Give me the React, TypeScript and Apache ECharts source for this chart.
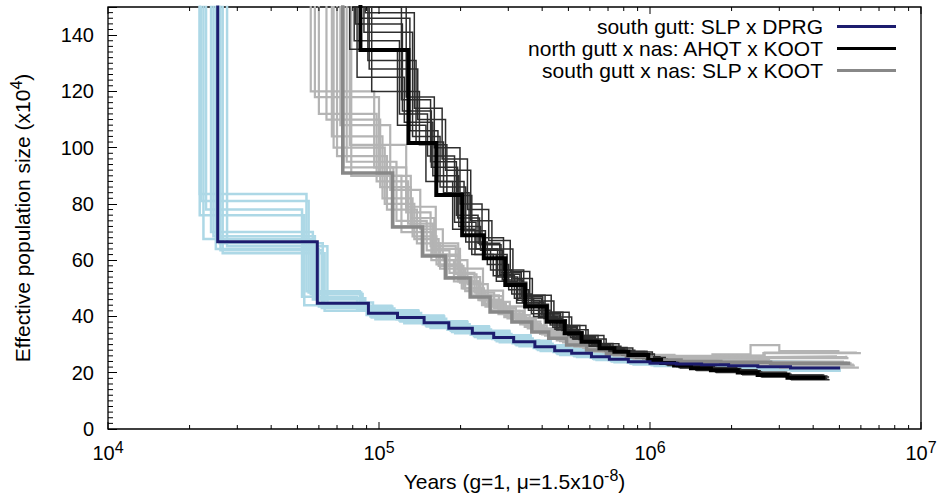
import React, { useEffect, useRef } from "react";
import * as echarts from "echarts";

// PSMC histories, [time (kyr), Ne (x10^4)]; each Ne holds from its time until the next one.
const slpDprg: number[][] = [
  [10, 400], [25.4, 66.6], [59.2, 44.7], [91.4, 41.1], [117, 39.6], [146.7, 37.8], [181, 35.8],
  [221, 34.0], [265, 32.5], [314, 31.0], [376, 29.2], [445, 27.8], [514, 26.9], [608, 25.7],
  [708, 24.8], [832, 23.9], [1000, 23.4], [1250, 23.1], [1550, 22.8], [1950, 22.5], [2500, 22.1],
  [3300, 21.7], [5030, 21.7],
];
const ahqtKoot: number[][] = [
  [60, 400], [85.4, 134.7], [128.4, 101.7], [162.7, 83.2], [202.7, 68.9], [243.6, 60.7],
  [292.4, 51.2], [346.1, 43.5], [415.7, 38.1], [484.2, 34.0], [558.8, 31.0], [651, 28.7],
  [739, 27.5], [832, 26.3], [985, 24.5], [1099, 23.5], [1227, 22.6], [1416, 21.6], [1678, 20.9],
  [2108, 20.1], [2496, 19.2], [3216, 18.2], [4435, 18.2],
];
const slpKoot: number[][] = [
  [50, 400], [73.5, 91], [112.2, 71.8], [144.6, 61.5], [175.7, 53.7], [216.9, 46.9], [256.9, 41.6],
  [309.3, 38.0], [366.3, 34.5], [422.9, 32.3], [492.3, 29.9], [583.4, 28.1], [690.6, 26.7],
  [818.3, 25.6], [1010, 24.5], [1302, 24.0], [1825, 23.7], [2786, 23.4], [5480, 23.4],
];

// Bootstrap replicates
const slpDprgBoot: number[][][] = [
  [[10, 400], [21.8, 83.5], [54, 49], [85, 43], [110, 41.5], [138, 39.5], [172, 37.5], [210, 35.6], [252, 34], [300, 32.3], [360, 30.5], [428, 29], [500, 27.8], [590, 26.7], [690, 25.6], [810, 24.8], [980, 24.2], [1230, 23.8], [1530, 23.5], [1930, 23.2], [2480, 22.8], [3280, 22.4], [5000, 22.4]],
  [[10, 400], [23, 78], [52, 47], [83, 42.5], [107, 41], [134, 39], [166, 37], [203, 35.3], [244, 33.8], [290, 32.2], [348, 30.4], [414, 28.8], [482, 27.7], [570, 26.6], [665, 25.6], [785, 24.7], [950, 24.3], [1200, 24.1], [1500, 23.9], [1900, 23.7], [2450, 23.5], [3250, 23.2], [4950, 23.2]],
  [[10, 400], [24, 70], [57, 46], [88, 42], [113, 40.4], [141, 38.6], [175, 36.6], [214, 34.8], [257, 33.2], [305, 31.7], [366, 29.9], [434, 28.4], [505, 27.4], [598, 26.3], [698, 25.3], [820, 24.5], [990, 24], [1240, 23.5], [1540, 23.2], [1940, 22.8], [2490, 22.4], [3290, 22.0], [5020, 22.0]],
  [[10, 400], [25, 64], [60, 43.5], [93, 40], [119, 38.6], [149, 36.8], [184, 34.9], [224, 33.1], [269, 31.6], [319, 30.1], [382, 28.4], [452, 27.0], [522, 26.2], [617, 25.0], [718, 24.2], [845, 23.4], [1010, 22.9], [1260, 22.6], [1560, 22.3], [1960, 22.0], [2510, 21.6], [3310, 21.2], [5040, 21.2]],
  [[10, 400], [26.5, 62.5], [63, 42], [97, 39], [124, 37.6], [155, 35.9], [191, 34], [232, 32.3], [279, 30.8], [330, 29.4], [395, 27.7], [466, 26.3], [538, 25.6], [635, 24.5], [740, 23.7], [870, 22.9], [1040, 22.4], [1290, 22.0], [1590, 21.7], [1990, 21.4], [2540, 21.0], [3340, 20.7], [5060, 20.7]],
  [[10, 400], [27.5, 65], [64.5, 45], [95, 41.8], [121, 40.2], [152, 38.2], [187, 36.4], [228, 34.6], [274, 33], [325, 31.5], [390, 29.6], [460, 28.1], [530, 27.1], [625, 26], [728, 25.2], [855, 24.3], [1020, 23.8], [1270, 23.4], [1570, 23.1], [1970, 22.8], [2520, 22.4], [3320, 22.0], [5050, 22.0]],
  [[10, 400], [22.5, 67.5], [56, 48], [87, 43.5], [112, 42], [140, 40], [174, 38], [212, 36.3], [255, 34.7], [303, 33], [363, 31.2], [430, 29.6], [500, 28.6], [592, 27.4], [690, 26.4], [812, 25.5], [985, 24.8], [1235, 24.5], [1535, 24.2], [1935, 24], [2485, 23.8], [3285, 23.6], [5010, 23.6]],
  [[10, 400], [21.8, 76], [53, 44], [90, 40.5], [116, 39], [145, 37.2], [179, 35.3], [218, 33.5], [262, 32], [311, 30.5], [372, 28.8], [440, 27.4], [510, 26.5], [603, 25.4], [703, 24.5], [826, 23.6], [995, 23.1], [1245, 22.8], [1545, 22.5], [1945, 22.1], [2495, 21.8], [3295, 21.4], [5025, 21.4]],
  [[10, 400], [24.5, 68.5], [58, 46.5], [89, 42.8], [114, 41.2], [143, 39.2], [177, 37.2], [216, 35.4], [259, 33.8], [308, 32.2], [369, 30.3], [437, 28.9], [508, 27.9], [600, 26.8], [700, 25.8], [823, 24.9], [993, 24.4], [1245, 24], [1545, 23.7], [1945, 23.4], [2495, 23], [3295, 22.6], [5030, 22.6]],
  [[10, 400], [26, 63.5], [61.5, 43], [94, 39.6], [120, 38.2], [150, 36.4], [186, 34.5], [226, 32.7], [272, 31.2], [322, 29.8], [386, 28.1], [456, 26.7], [526, 25.9], [622, 24.8], [724, 24], [850, 23.2], [1015, 22.7], [1265, 22.3], [1565, 22], [1965, 21.7], [2515, 21.3], [3315, 20.9], [5045, 20.9]],
  [[10, 400], [22, 81], [55, 48.5], [86, 43.8], [111, 42.2], [139, 40.3], [173, 38.3], [211, 36.5], [254, 34.9], [302, 33.3], [362, 31.4], [429, 29.8], [499, 28.8], [591, 27.6], [692, 26.6], [811, 25.7], [983, 25], [1233, 24.6], [1533, 24.3], [1933, 24.1], [2483, 23.9], [3283, 23.7], [5000, 23.7]],
  [[10, 400], [25.8, 66], [62, 44.2], [92, 40.7], [118, 39.2], [147, 37.4], [182, 35.5], [222, 33.7], [267, 32.2], [316, 30.7], [378, 28.9], [448, 27.5], [517, 26.6], [612, 25.5], [712, 24.6], [838, 23.7], [1005, 23.2], [1255, 22.9], [1555, 22.6], [1955, 22.3], [2505, 21.9], [3305, 21.5], [5035, 21.5]],
];
const ahqtKootBoot: number[][][] = [
  [[60, 400], [80, 150], [121, 117], [155, 95], [193, 76], [232, 66], [279, 55], [331, 46.5], [398, 40.5], [464, 36], [535, 32.6], [624, 30], [709, 28.6], [800, 27.3], [950, 25.4], [1060, 24.3], [1185, 23.4], [1370, 22.4], [1625, 21.6], [2045, 20.8], [2420, 19.9], [3120, 18.9], [4300, 18.9]],
  [[60, 400], [83, 125], [124, 109], [158, 90], [197, 72], [237, 63.5], [285, 53], [338, 45], [406, 39.3], [473, 35], [546, 31.8], [637, 29.3], [723, 28], [815, 26.8], [965, 25], [1078, 24], [1205, 23.1], [1392, 22.1], [1650, 21.3], [2075, 20.5], [2460, 19.6], [3170, 18.6], [4370, 18.6]],
  [[60, 400], [88, 141], [133, 104], [168, 86], [209, 66.5], [251, 58.5], [301, 49.5], [356, 42.2], [428, 37], [498, 33.2], [574, 30.3], [669, 28.1], [760, 27], [855, 25.9], [1010, 24.1], [1125, 23.1], [1255, 22.2], [1445, 21.3], [1710, 20.6], [2140, 19.8], [2530, 19.0], [3260, 18.0], [4500, 18.0]],
  [[60, 400], [91, 131], [137, 102], [173, 84], [215, 64], [258, 56.5], [309, 48], [365, 41], [438, 36.2], [509, 32.5], [586, 29.8], [683, 27.7], [775, 26.6], [872, 25.5], [1030, 23.8], [1150, 22.8], [1280, 21.9], [1475, 21.0], [1745, 20.3], [2180, 19.5], [2570, 18.7], [3300, 17.7], [4560, 17.7]],
  [[60, 400], [81, 138], [119, 112], [151, 97], [190, 73.5], [228, 64], [274, 54], [325, 45.8], [392, 40], [457, 35.5], [528, 32.3], [616, 29.6], [700, 28.3], [790, 27], [940, 25.1], [1050, 24.1], [1175, 23.2], [1360, 22.2], [1612, 21.4], [2030, 20.6], [2410, 19.7], [3100, 18.7], [4280, 18.7]],
  [[60, 400], [86, 146], [130, 106], [165, 88], [206, 70.5], [247, 62], [297, 52.2], [351, 44.3], [422, 38.8], [491, 34.6], [566, 31.5], [660, 29.1], [749, 27.8], [843, 26.6], [998, 24.8], [1112, 23.7], [1240, 22.8], [1430, 21.8], [1695, 21.1], [2125, 20.3], [2515, 19.4], [3240, 18.4], [4470, 18.4]],
  [[60, 400], [94, 120], [141, 101], [178, 83], [220, 62], [264, 54.5], [316, 46.5], [372, 40], [446, 35.5], [518, 32], [595, 29.4], [694, 27.4], [787, 26.3], [885, 25.2], [1045, 23.6], [1165, 22.6], [1295, 21.7], [1490, 20.8], [1760, 20.1], [2200, 19.3], [2590, 18.5], [3330, 17.5], [4600, 17.5]],
  [[60, 400], [84, 152], [126, 118], [160, 100], [199, 80], [240, 68], [288, 56.5], [342, 47.5], [410, 41.5], [477, 36.8], [551, 33.2], [643, 30.4], [730, 29], [823, 27.6], [975, 25.7], [1088, 24.5], [1215, 23.6], [1400, 22.7], [1660, 21.9], [2090, 21.1], [2480, 20.2], [3190, 19.2], [4400, 19.2]],
  [[60, 400], [89, 148], [135, 114], [171, 96], [212, 78], [254, 67], [305, 56], [360, 47.5], [432, 41.5], [503, 36.8], [580, 33.2], [676, 30.3], [768, 28.8], [864, 27.4], [1020, 25.4], [1138, 24.2], [1268, 23.3], [1460, 22.3], [1728, 21.5], [2160, 20.7], [2550, 19.8], [3280, 18.8], [4520, 18.8]],
  [[60, 400], [78, 135], [117, 108], [149, 88], [187, 71], [226, 62], [271, 52.5], [322, 44.8], [388, 39.5], [452, 35.2], [523, 32], [610, 29.5], [694, 28.2], [784, 27], [932, 25.2], [1042, 24.2], [1165, 23.3], [1350, 22.4], [1600, 21.6], [2020, 20.8], [2400, 19.9], [3090, 18.9], [4250, 18.9]],
  [[60, 400], [92, 128], [139, 110], [176, 92], [218, 74], [261, 64], [312, 53.5], [368, 45.5], [442, 39.8], [514, 35.3], [591, 32], [689, 29.4], [781, 28], [879, 26.7], [1038, 24.8], [1158, 23.7], [1288, 22.8], [1482, 21.9], [1752, 21.1], [2190, 20.3], [2580, 19.5], [3315, 18.5], [4580, 18.5]],
  [[60, 400], [82, 144], [122, 113], [156, 93], [195, 75], [235, 65.5], [282, 55.5], [335, 47], [402, 41], [468, 36.5], [540, 33], [630, 30.2], [716, 28.8], [808, 27.5], [958, 25.6], [1070, 24.5], [1195, 23.6], [1380, 22.6], [1638, 21.8], [2060, 21], [2440, 20.1], [3145, 19.1], [4340, 19.1]],
];
const slpKootBoot: number[][][] = [
  [[50, 400], [60, 112], [98, 88], [128, 73], [158, 62], [196, 52.5], [233, 46], [282, 41], [335, 37.5], [388, 34.5], [452, 32], [537, 29.8], [638, 28.2], [760, 27], [940, 26], [1215, 25.6], [1710, 26], [2620, 27], [6000, 27]],
  [[50, 400], [67, 104], [103, 82], [133, 68.5], [163, 58.5], [202, 50], [240, 44], [290, 39.8], [345, 36.3], [400, 33.6], [466, 31.2], [553, 29.2], [656, 27.6], [780, 26.4], [965, 25.2], [1245, 24.6], [1750, 24.3], [2680, 24], [5200, 24]],
  [[50, 400], [70, 97], [107, 78], [138, 66], [168, 57], [208, 49], [247, 43.5], [298, 39.3], [354, 35.8], [410, 33.2], [478, 30.8], [567, 28.8], [672, 27.3], [798, 26.1], [985, 24.9], [1270, 24.3], [1780, 24], [2730, 23.6], [5350, 23.6]],
  [[50, 400], [76, 95], [116, 74], [150, 63.5], [182, 55.5], [225, 48.5], [266, 43], [320, 39], [379, 35.5], [437, 33], [508, 30.6], [602, 28.7], [712, 27.2], [843, 26], [1040, 24.8], [1340, 24.2], [1875, 23.8], [2850, 23.3], [5550, 23.3]],
  [[50, 400], [79, 90], [121, 70], [156, 60], [189, 52.5], [233, 45.8], [276, 40.8], [332, 37.2], [393, 33.8], [453, 31.5], [526, 29.3], [623, 27.5], [736, 26.1], [870, 25], [1070, 23.9], [1380, 23.3], [1930, 22.9], [2930, 22.5], [5700, 22.5]],
  [[50, 400], [56, 120], [96, 93], [126, 77], [155, 65], [192, 55], [229, 47.5], [277, 42], [330, 38], [383, 35], [446, 32.4], [530, 30.2], [630, 28.6], [750, 27.3], [930, 26.2], [1200, 25.8], [1690, 25.6], [2580, 25.8], [4900, 25.8]],
  [[50, 400], [78, 101], [126, 79], [162, 66], [196, 57], [242, 49.2], [287, 43.6], [345, 39.5], [408, 35.8], [470, 33.2], [546, 30.7], [646, 28.7], [762, 27], [900, 25.6], [1105, 24.2], [1425, 23.2], [1990, 22.4], [3020, 21.8], [5900, 21.8]],
  [[50, 400], [72, 108], [110, 85], [142, 71], [172, 60], [212, 51.5], [252, 45.2], [304, 40.5], [360, 36.8], [416, 34], [485, 31.4], [575, 29.3], [682, 27.8], [809, 26.6], [1000, 25.4], [1290, 25], [1800, 24.9], [2750, 25.2], [5400, 25.2]],
  [[50, 400], [68, 100], [105, 80], [135, 67.5], [166, 58], [205, 50], [244, 44.5], [294, 40], [349, 36.5], [405, 33.9], [472, 31.4], [560, 29.5], [664, 28], [789, 26.8], [975, 25.8], [1255, 25.8], [1700, 26.5], [2350, 29.8], [3000, 27.7], [5000, 27.7]],
  [[50, 400], [58, 118], [100, 90], [131, 75], [160, 64], [199, 54], [236, 47.2], [286, 42], [340, 38.2], [394, 35.3], [459, 32.8], [545, 30.5], [647, 28.8], [770, 27.5], [952, 26.4], [1230, 26], [1730, 26.2], [2650, 27.2], [5800, 27.2]],
  [[50, 400], [74, 93], [113, 72], [146, 62], [178, 54], [220, 47.5], [260, 42.2], [313, 38.4], [372, 35], [430, 32.6], [500, 30.2], [592, 28.3], [700, 26.9], [830, 25.8], [1025, 24.6], [1320, 23.9], [1850, 23.4], [2820, 22.9], [5650, 22.9]],
  [[50, 400], [64, 110], [101, 86], [131, 72], [161, 61.5], [199, 52], [237, 45.8], [286, 41], [341, 37.3], [396, 34.6], [461, 32.1], [547, 30], [650, 28.4], [774, 27.1], [958, 26], [1238, 25.5], [1740, 25.3], [2660, 25.6], [5300, 26]],
];

const seriesNames = [
  "south gutt: SLP x DPRG",
  "north gutt x nas: AHQT x KOOT",
  "south gutt x nas: SLP x KOOT",
];
const xDecades = [1e4, 1e5, 1e6, 1e7];
const xMultipliers = [2, 3, 4, 5, 6, 7, 8, 9];
const yMinorStep = 2;
const yMax = 150;

const FONT = '"Liberation Sans", Arial, Helvetica, sans-serif';

function stepLine(name: string | undefined, pts: number[][], color: string, width: number, z: number) {
  return {
    type: "line",
    name,
    step: "end",
    data: pts.map(([t, ne]) => [t * 1000, ne]),
    showSymbol: false,
    symbol: "none",
    lineStyle: { color, width, join: "miter", cap: "butt" },
    itemStyle: { color },
    silent: true,
    clip: true,
    z,
  };
}

export default function App() {
  const ref = useRef<HTMLDivElement>(null);

  useEffect(() => {
    if (!ref.current) return;
    const chart = echarts.init(ref.current, undefined, { renderer: "svg" });

    // log-axis tick marks (decades + 2..9 multiples), mirrored on the top border
    const xTickData: number[][] = [];
    xDecades.forEach((d, i) => {
      xTickData.push([d, 1]);
      if (i < xDecades.length - 1) xMultipliers.forEach((m) => xTickData.push([d * m, 0]));
    });
    const yMinorData: number[][] = [];
    for (let v = yMinorStep; v < yMax; v += yMinorStep) if (v % 20 !== 0) yMinorData.push([1e4, v]);

    const tickStyle = { stroke: "#000", lineWidth: 1 };

    const series: any[] = [];
    slpDprgBoot.forEach((b) => series.push(stepLine(undefined, b, "#add8e6", 2.5, 1)));
    slpKootBoot.forEach((b) => series.push(stepLine(undefined, b, "#b4b4b4", 2.2, 2)));
    ahqtKootBoot.forEach((b) => series.push(stepLine(undefined, b, "#2e2e2e", 1.5, 3)));
    series.push(stepLine(seriesNames[2], slpKoot, "#888888", 3.5, 4));
    series.push(stepLine(seriesNames[1], ahqtKoot, "#000000", 4, 5));
    series.push(stepLine(seriesNames[0], slpDprg, "#1c1c6e", 3, 6));

    series.push({
      type: "custom",
      silent: true,
      clip: false,
      z: 10,
      data: xTickData,
      renderItem: (params: any, api: any) => {
        const cs = params.coordSys;
        const x = api.coord([api.value(0), 0])[0];
        const len = api.value(1) === 1 ? 7 : 4;
        const bottom = cs.y + cs.height;
        const top = cs.y;
        return {
          type: "group",
          children: [
            { type: "line", shape: { x1: x, y1: bottom, x2: x, y2: bottom - len }, style: tickStyle },
            { type: "line", shape: { x1: x, y1: top, x2: x, y2: top + len }, style: tickStyle },
          ],
        };
      },
    });
    series.push({
      type: "custom",
      silent: true,
      clip: false,
      z: 10,
      data: yMinorData,
      renderItem: (params: any, api: any) => {
        const cs = params.coordSys;
        const y = api.coord([1e4, api.value(1)])[1];
        return { type: "line", shape: { x1: cs.x, y1: y, x2: cs.x + 5, y2: y }, style: tickStyle };
      },
    });

    const supStyle = { fontSize: 16, fontFamily: FONT, color: "#000", padding: [0, 0, 12, 0] };

    chart.setOption({
      animation: false,
      backgroundColor: "#fff",
      textStyle: { fontFamily: FONT },
      grid: {
        left: 104, right: 20, top: 7, bottom: 69,
        show: true, borderColor: "#000", borderWidth: 1.3, backgroundColor: "transparent",
      },
      legend: {
        data: seriesNames,
        orient: "vertical",
        right: 45,
        top: 16,
        padding: 0,
        align: "right",
        icon: "rect",
        itemWidth: 59,
        itemHeight: 3,
        itemGap: 1,
        selectedMode: false,
        textStyle: { fontSize: 21, lineHeight: 20, fontFamily: FONT, color: "#000", padding: [0, 9, 0, 0] },
      },
      xAxis: {
        type: "log",
        logBase: 10,
        min: 1e4,
        max: 1e7,
        axisLine: { show: false },
        axisTick: { show: false },
        splitLine: { show: false },
        axisLabel: {
          margin: 10,
          formatter: (v: number) => `{b|10}{s|${Math.round(Math.log10(v))}}`,
          rich: {
            b: { fontSize: 20, fontFamily: FONT, color: "#000" },
            s: supStyle,
          },
        },
        name: "Years (g=1, μ=1.5x10{s|-8})",
        nameLocation: "middle",
        nameGap: 36,
        nameTextStyle: { fontSize: 21, fontFamily: FONT, color: "#000", rich: { s: supStyle } },
      },
      yAxis: {
        type: "value",
        min: 0,
        max: yMax,
        interval: 20,
        axisLine: { show: false },
        axisTick: { show: true, inside: true, length: 9, lineStyle: { color: "#000", width: 1 } },
        splitLine: { show: false },
        axisLabel: {
          margin: 14,
          fontSize: 20,
          fontFamily: FONT,
          color: "#000",
          formatter: (v: number) => (v > 140 ? "" : String(v)),
        },
        name: "Effective population size (x10{s|4})",
        nameLocation: "middle",
        nameGap: 72,
        nameTextStyle: { fontSize: 21, fontFamily: FONT, color: "#000", rich: { s: supStyle } },
      },
      series,
    });

    return () => chart.dispose();
  }, []);

  return <div ref={ref} style={{ position: "fixed", left: 0, top: 0, width: 941, height: 498 }} />;
}
